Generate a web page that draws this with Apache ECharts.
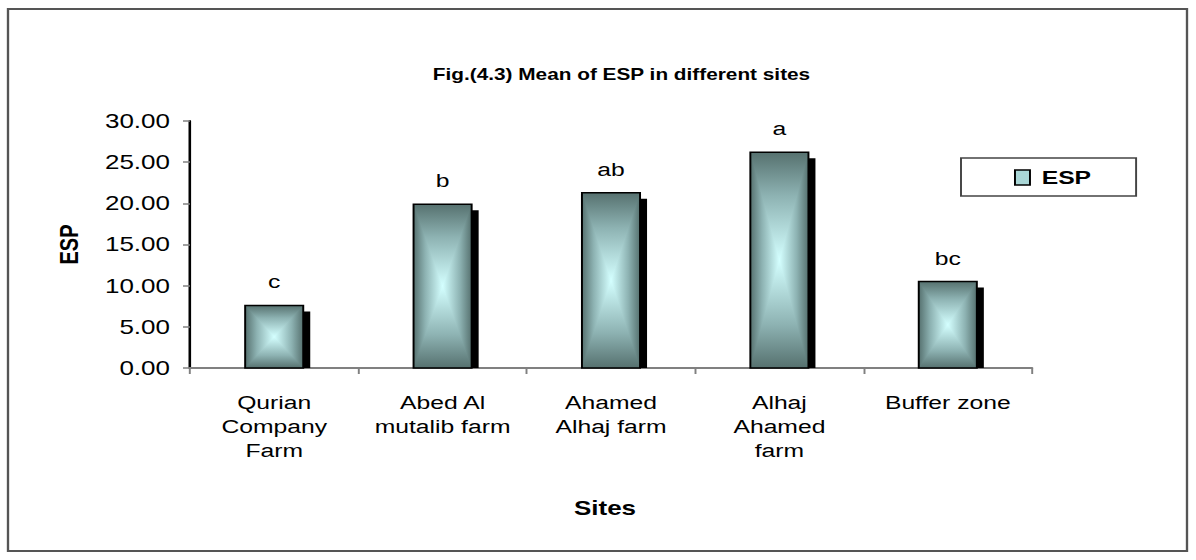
<!DOCTYPE html>
<html>
<head>
<meta charset="utf-8">
<script src="https://cdn.jsdelivr.net/npm/echarts@6/dist/echarts.min.js"></script>
<style>
  html, body { margin: 0; padding: 0; background: #fff; overflow: hidden; }
  /* The chart is laid out narrower and widened horizontally, giving the broad lettering */
  #chart { width: 920px; height: 560px; transform: scaleX(1.3); transform-origin: 0 0; }
</style>
</head>
<body>
<div id="chart"></div>
<script>
// Sites and mean ESP per site, with the significance letters above each bar
const sites = ['Qurian\nCompany\nFarm', 'Abed Al\nmutalib farm', 'Ahamed\nAlhaj farm', 'Alhaj\nAhamed\nfarm', 'Buffer zone'];
const espValues = [7.6, 19.9, 21.3, 26.2, 10.5];
const groupLetters = ['c', 'b', 'ab', 'a', 'bc'];
const yTicks = { min: 0, max: 30, interval: 5 };

const SX = 1.3;                 // horizontal widening applied by CSS
const px = v => v / SX;         // screen px -> layout units along x
const FONT = 'Liberation Sans, Arial, sans-serif';
const DARK = '#56716f';
const MID = '#8db2b2';
const LIGHT = '#d4ffff';

// full-width horizontal gradient: dark edges, light centre
function sideGrad() {
  return new echarts.graphic.LinearGradient(0, 0, 1, 0, [
    { offset: 0, color: DARK }, { offset: 0.2, color: MID }, { offset: 0.5, color: LIGHT },
    { offset: 0.8, color: MID }, { offset: 1, color: DARK }
  ]);
}
// half gradient for the top/bottom wedges (edge -> centre)
function capGrad(fromTop) {
  const stops = [{ offset: 0, color: DARK }, { offset: 0.4, color: MID }, { offset: 1, color: LIGHT }];
  return fromTop
    ? new echarts.graphic.LinearGradient(0, 0, 0, 1, stops)
    : new echarts.graphic.LinearGradient(0, 1, 0, 0, stops);
}

// Bar with a rectangular "from centre" gradient and a drop shadow
function renderBar(params, api) {
  const idx = api.value(0);
  const val = api.value(1);
  const top = api.coord([idx, val]);
  const base = api.coord([idx, 0]);
  const bw = api.size([1, 0])[0] * 0.345;
  const x0 = top[0] - bw / 2, x1 = top[0] + bw / 2;
  const y0 = top[1], y1 = base[1];
  const cx = (x0 + x1) / 2, cy = (y0 + y1) / 2;
  return {
    type: 'group',
    children: [
      { type: 'rect', shape: { x: x0 + px(7), y: y0 + 6, width: bw, height: y1 - y0 - 6 }, style: { fill: '#000' } },
      { type: 'rect', shape: { x: x0, y: y0, width: bw, height: y1 - y0 }, style: { fill: sideGrad() } },
      { type: 'polygon', shape: { points: [[x0, y0], [x1, y0], [cx, cy]] }, style: { fill: capGrad(true) } },
      { type: 'polygon', shape: { points: [[x0, y1], [x1, y1], [cx, cy]] }, style: { fill: capGrad(false) } },
      { type: 'rect', shape: { x: x0, y: y0, width: bw, height: y1 - y0 }, style: { fill: null, stroke: '#000', lineWidth: 1.5 } },
      { type: 'text', x: cx, y: y0 - 14, style: { text: groupLetters[idx], fill: '#000', font: '19px ' + FONT, align: 'center', verticalAlign: 'bottom' } }
    ]
  };
}

const chart = echarts.init(document.getElementById('chart'), null, { renderer: 'svg', width: 920, height: 560 });
chart.setOption({
  backgroundColor: '#fff',
  animation: false,
  graphic: [
    { type: 'rect', shape: { x: px(8), y: 9, width: px(1179), height: 542 }, style: { fill: null, stroke: '#555', lineWidth: 1.8 } }
  ],
  title: {
    text: 'Fig.(4.3) Mean of ESP in different sites',
    left: px(615), top: 61, textAlign: 'center',
    textStyle: { fontFamily: FONT, fontSize: 16, fontWeight: 'bold', color: '#000' }
  },
  legend: {
    left: px(961), top: 158,
    padding: [10, px(45), 9, px(53)],
    borderColor: '#444', borderWidth: 1.5,
    itemWidth: px(15), itemHeight: 15,
    textStyle: { fontFamily: FONT, fontSize: 19, fontWeight: 'bold', color: '#000', padding: [0, 0, 0, 4] },
    data: [{
      name: 'ESP', icon: 'rect',
      itemStyle: { color: '#a9d6d6', borderColor: '#000', borderWidth: 1.5 }
    }]
  },
  grid: { left: px(190), right: 920 - px(1032), top: 121, bottom: 192 },
  xAxis: {
    type: 'category',
    data: sites,
    name: 'Sites',
    nameLocation: 'middle',
    nameGap: 130,
    nameTextStyle: { fontFamily: FONT, fontSize: 20, fontWeight: 'bold', color: '#000', padding: [0, px(12), 0, 0] },
    axisLine: { lineStyle: { color: '#808080', width: 2 } },
    axisTick: { show: true, length: 6, lineStyle: { color: '#808080', width: 1.5 } },
    axisLabel: { fontFamily: FONT, fontSize: 19, color: '#000', lineHeight: 24, margin: 23, interval: 0 },
    splitLine: { show: false }
  },
  yAxis: {
    type: 'value',
    min: yTicks.min, max: yTicks.max, interval: yTicks.interval,
    name: 'ESP',
    nameLocation: 'middle',
    nameRotate: 90,
    nameGap: px(108),
    nameTextStyle: { fontFamily: FONT, fontSize: 20, fontWeight: 'bold', color: '#000' },
    axisLine: { show: true, lineStyle: { color: '#000', width: 2 } },
    axisTick: { show: true, length: px(7), lineStyle: { color: '#808080', width: 1.5 } },
    axisLabel: { fontFamily: FONT, fontSize: 20, color: '#000', margin: px(20), formatter: v => v.toFixed(2) },
    splitLine: { show: false }
  },
  series: [{
    name: 'ESP',
    type: 'custom',
    renderItem: renderBar,
    itemStyle: { color: '#a9d6d6' },
    encode: { x: 0, y: 1 },
    data: espValues.map((v, i) => [i, v]),
    z: 2
  }]
});
</script>
</body>
</html>
